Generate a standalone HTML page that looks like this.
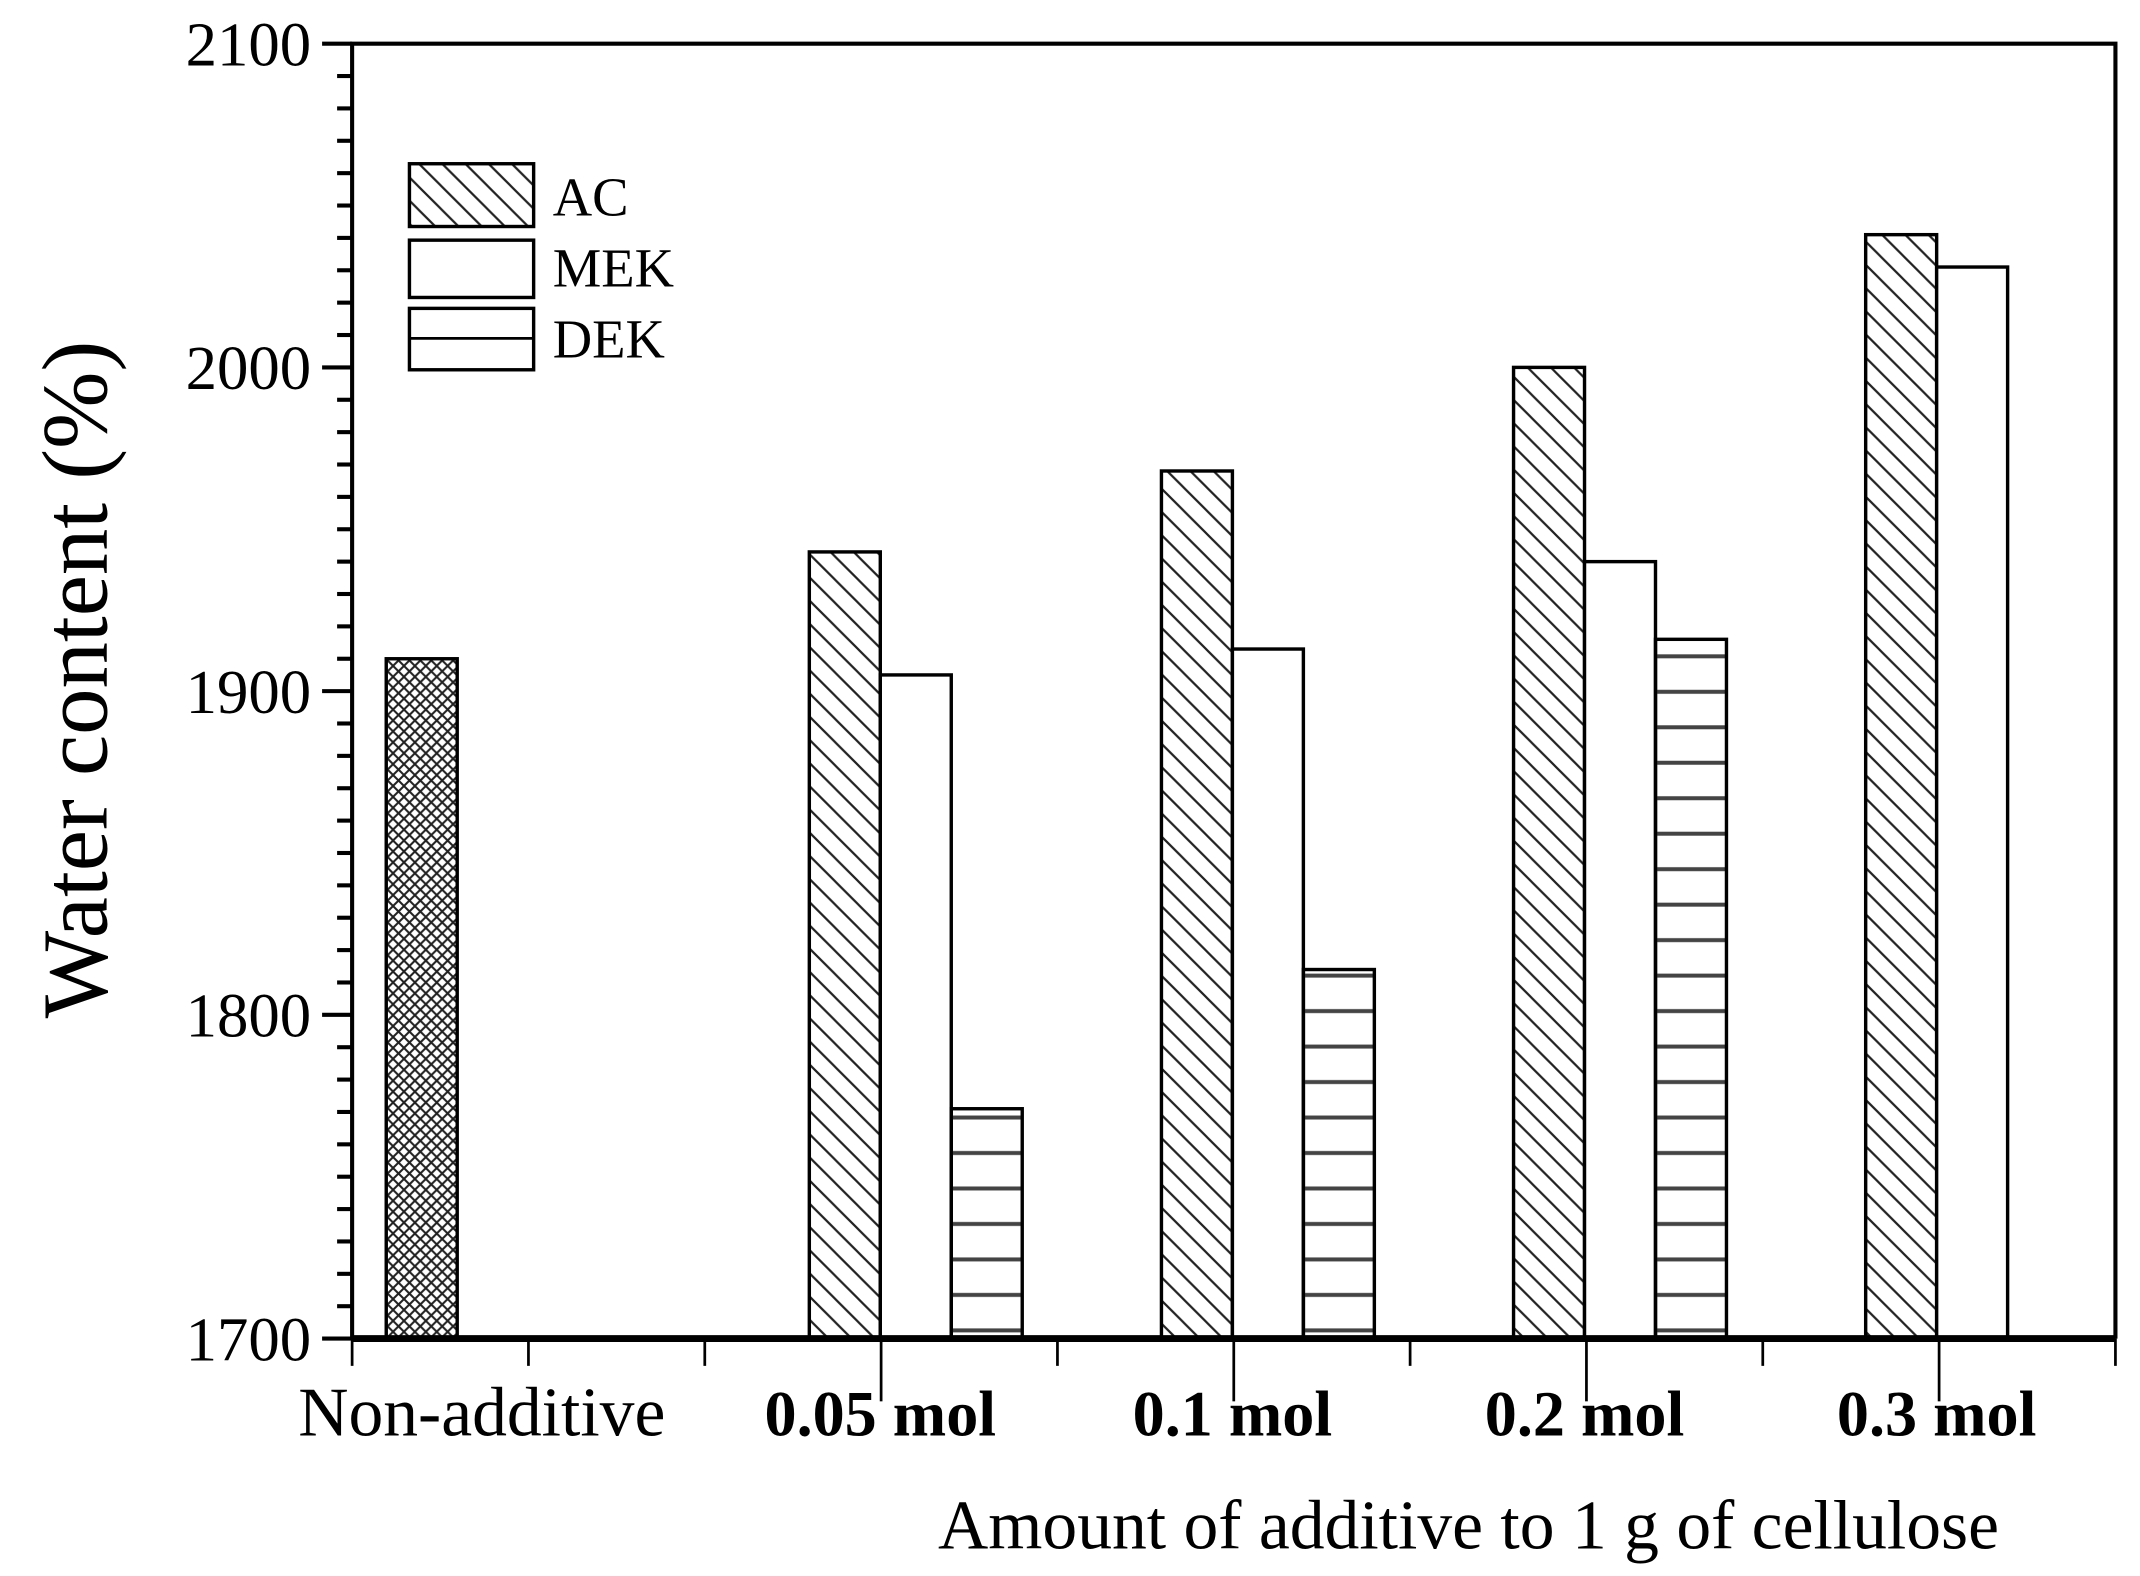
<!DOCTYPE html>
<html><head><meta charset="utf-8"><style>
html,body{margin:0;padding:0;background:#fff}
svg{display:block}
text{font-family:"Liberation Serif",serif;fill:#000}
</style></head><body>
<svg id="chart" width="2140" height="1576" viewBox="0 0 1568 1155" preserveAspectRatio="none" xmlns="http://www.w3.org/2000/svg">
<defs>
<pattern id="pAC" patternUnits="userSpaceOnUse" width="17" height="17">
<path d="M-5,-5 L22,22 M-5,12 L5,22 M12,-5 L22,5" stroke="#222" stroke-width="1.6"/>
</pattern>
<pattern id="pDEK" patternUnits="userSpaceOnUse" width="20" height="26">
<path d="M0,13 L20,13" stroke="#444" stroke-width="3"/>
</pattern>
<pattern id="pX" patternUnits="userSpaceOnUse" width="8" height="8">
<path d="M0,0 L8,8 M8,0 L0,8" stroke="#222" stroke-width="1.5"/>
</pattern>
</defs>
<g id="axes"></g>
<g id="bars"></g>
<g id="legend">
<rect x="300" y="120" width="91" height="46" fill="url(#pAC)" stroke="#000" stroke-width="2.5"/>
<text x="405" y="158" font-size="40">AC</text>
<rect x="300" y="176" width="91" height="42" fill="#fff" stroke="#000" stroke-width="2.5"/>
<text x="405" y="210" font-size="40">MEK</text>
<rect x="300" y="226" width="91" height="45" fill="#fff" stroke="#000" stroke-width="2.5"/>
<line x1="300" y1="248" x2="391" y2="248" stroke="#000" stroke-width="2"/>
<text x="405" y="262" font-size="40">DEK</text>
</g>
<text transform="translate(78,498) rotate(-90)" text-anchor="middle" font-size="68">Water content (%)</text>
<text x="1076" y="1135" text-anchor="middle" font-size="51">Amount of additive to 1 g of cellulose</text>
</svg>
<script>
const categories = ["Non-additive", "0.05 mol", "0.1 mol", "0.2 mol", "0.3 mol"];
const controlValues = [1910, null, null, null, null];
const acValues = [null, 1943, 1968, 2000, 2041];
const mekValues = [null, 1905, 1913, 1940, 2031];
const dekValues = [null, 1771, 1814, 1916, null];
const yTicks = [1700, 1800, 1900, 2000, 2100];

const NS = "http://www.w3.org/2000/svg";
const pLeft = 258, pRight = 1550, pTop = 32, pBottom = 981;
const yMin = 1700, yMax = 2100;
function yS(v){ return pBottom - (v - yMin) / (yMax - yMin) * (pBottom - pTop); }
const catStep = 258;
function xc(i){ return 387 + i * catStep; }
const bw = 52;
function mk(tag, attrs, parent){ const e = document.createElementNS(NS, tag); for (const k in attrs) e.setAttribute(k, attrs[k]); parent.appendChild(e); return e; }

const axes = document.getElementById('axes');
const fr = mk('path', {d:`M${pLeft},${pBottom} L${pLeft},${pTop} L${pRight},${pTop} L${pRight},${pBottom}`, fill:'none', stroke:'#000', 'stroke-width':3}, axes);


for (let v = yMin; v <= yMax; v += 10) {
  const major = (v % 100 === 0);
  const t = mk('line', {x1:pLeft - (major ? 22 : 11), x2:pLeft, y1:yS(v), y2:yS(v), stroke:'#000', 'stroke-width':3}, axes);
  
  
}
yTicks.forEach(v => {
  const t = mk('text', {x:228, y:yS(v) + 16, 'text-anchor':'end', 'font-size':46}, axes);
  t.textContent = v;
  
  
});
for (let i = 0; i <= 10; i++) {
  const x = pLeft + i * (pRight - pLeft) / 10;
  const major = (i === 3 || i === 5 || i === 7 || i === 9);
  const t = mk('line', {x1:x, x2:x, y1:pBottom, y2:pBottom + (major ? 46 : 20), stroke:'#000', 'stroke-width':2}, axes);
  
  
}
categories.forEach((c, i) => {
  const t = mk('text', {x: i === 0 ? 353 : xc(i), y:1052, 'text-anchor':'middle', 'font-size': i === 0 ? 51 : 47, 'font-weight': i === 0 ? 'normal' : 'bold'}, axes);
  t.textContent = c;
  
  
});

const bars = document.getElementById('bars');
const series = [
  {vals: controlValues, off: -2, fill: 'url(#pX)', name: 'bar-non-additive'},
  {vals: acValues, off: -1, fill: 'url(#pAC)', name: 'bar-ac'},
  {vals: mekValues, off: 0, fill: '#fff', name: 'bar-mek'},
  {vals: dekValues, off: 1, fill: 'url(#pDEK)', name: 'bar-dek'}
];
series.forEach(s => {
  s.vals.forEach((v, i) => {
    if (v === null) return;
    const r = mk('rect', {x: xc(i) + s.off * bw, y: yS(v), width: bw, height: pBottom - yS(v), fill: s.fill, stroke:'#000', 'stroke-width':2.5}, bars);
    
    
  });
});
const ax = mk('line', {x1:pLeft, x2:pRight, y1:pBottom, y2:pBottom, stroke:'#000', 'stroke-width':5}, bars);


</script>
</body></html>
